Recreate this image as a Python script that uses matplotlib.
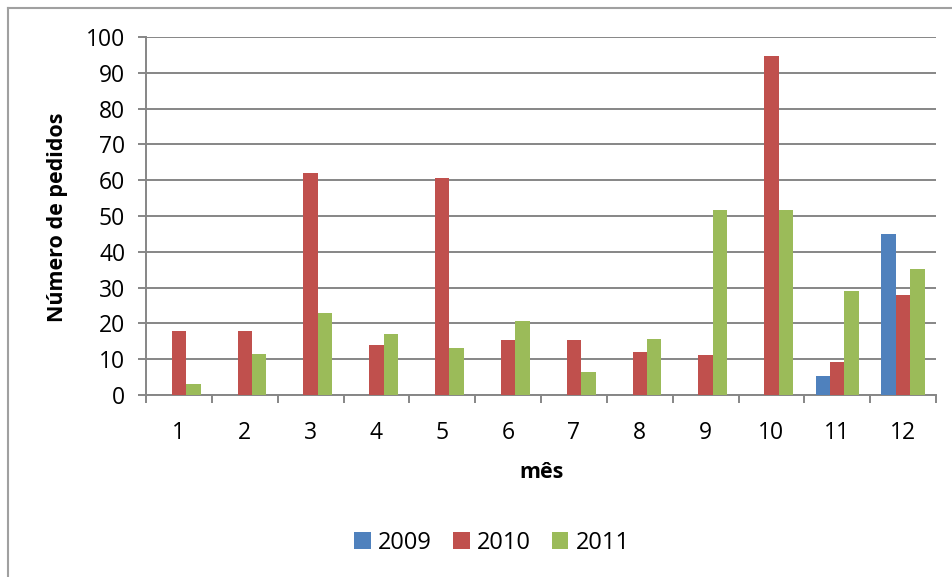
import numpy as np
import matplotlib
matplotlib.use("Agg")
import matplotlib.pyplot as plt
from matplotlib.lines import Line2D
from matplotlib.patches import Patch

# dados
meses = [1, 2, 3, 4, 5, 6, 7, 8, 9, 10, 11, 12]
anos = ["2009", "2010", "2011"]
v2009 = [0, 0, 0, 0, 0, 0, 0, 0, 0, 0, 5.2, 45.1]
v2010 = [18, 18, 62, 14.1, 60.7, 15.3, 15.3, 11.9, 11.2, 94.7, 9.1, 27.9]
v2011 = [3, 11.4, 23, 16.9, 13, 20.7, 6.3, 15.7, 51.8, 51.8, 29, 35.2]
cores = ["#4F81BD", "#C0504D", "#9BBB59"]

plt.rcParams["font.family"] = ["Open Sans", "DejaVu Sans"]
cinza = "#868686"

fig = plt.figure(figsize=(9.52, 5.77), dpi=100)
W, H = 952, 577
ax = fig.add_axes([146 / W, 1 - 395 / H, (936 - 146) / W, (395 - 37) / H])

x = np.arange(1, len(meses) + 1)
larg = 0.22
for i, (vals, cor) in enumerate(zip([v2009, v2010, v2011], cores)):
    ax.bar(x + (i - 1) * larg, vals, width=larg, color=cor, edgecolor="none", zorder=3)

ax.set_xlim(0.5, 12.5)
ax.set_ylim(0, 100)
ax.set_yticks(np.arange(0, 101, 10))
ax.yaxis.grid(True, color=cinza, linewidth=1.4, zorder=0)

# ticks nos limites das categorias, rótulos no centro
ax.set_xticks(np.arange(0.5, 13, 1))
ax.set_xticklabels([])
ax.set_xticks(x, minor=True)
ax.set_xticklabels([str(m) for m in meses], minor=True)
ax.tick_params(axis="x", which="major", length=6, width=1.4, color=cinza, direction="out")
ax.tick_params(axis="x", which="minor", length=0, pad=19, labelsize=16.5)
ax.tick_params(axis="y", length=6, width=1.4, color=cinza, direction="out", pad=9, labelsize=16.5)

for s in ["top", "right"]:
    ax.spines[s].set_visible(False)
for s in ["left", "bottom"]:
    ax.spines[s].set_color(cinza)
    ax.spines[s].set_linewidth(1.4)

fig.text(58 / W, 1 - 217 / H, "Número de pedidos", rotation=90, ha="center", va="center",
         fontsize=15.5, fontweight="bold")
fig.text(542 / W, 1 - 473 / H, "mês", ha="center", va="center", fontsize=15.5, fontweight="bold")

handles = [Patch(facecolor=c, edgecolor="none") for c in cores]
fig.legend(handles, anos, loc="center", bbox_to_anchor=(492 / W, 1 - 543 / H), ncol=3,
           frameon=False, fontsize=17, handlelength=0.7, handleheight=0.7,
           handletextpad=0.3, columnspacing=0.9)

# borda externa
fig.add_artist(Line2D([8 / W, 8 / W], [0, 1 - 8 / H], color="#A0A0A0", linewidth=1.5))
fig.add_artist(Line2D([8 / W, 1], [1 - 8 / H, 1 - 8 / H], color="#A0A0A0", linewidth=1.5))

fig.savefig("out.png", dpi=100)
